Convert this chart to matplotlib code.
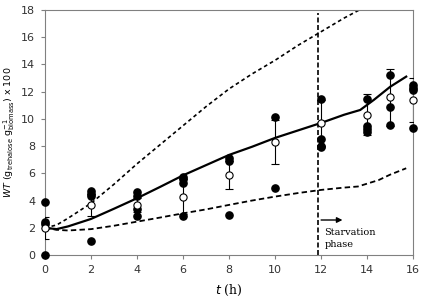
import matplotlib.pyplot as plt
import numpy as np

# individual measurements (filled)
t_meas = [0, 0, 0, 0,
          2, 2, 2, 2,
          4, 4, 4, 4,
          6, 6, 6, 6,
          8, 8, 8,
          10, 10,
          12, 12, 12, 12,
          14, 14, 14, 14,
          15, 15, 15,
          16, 16, 16, 16]
wt_meas = [3.9, 2.4, 2.3, 0.0,
           4.7, 4.5, 4.3, 1.05,
           4.6, 4.3, 3.4, 2.9,
           5.75, 5.55, 5.3, 2.9,
           7.1, 6.9, 2.95,
           10.1, 4.95,
           11.45, 8.5, 8.0, 7.9,
           11.45, 9.45, 9.25, 9.05,
           13.25, 10.9, 9.55,
           12.5, 12.3, 12.15, 9.3]

# means (open) with error
t_mean = [0, 2, 4, 6, 8, 10, 12, 14, 15, 16]
wt_mean = [2.0, 3.68, 3.68, 4.29, 5.88, 8.3, 9.68, 10.29, 11.57, 11.4]
wt_err = [0.8, 0.8, 0.5, 1.3, 1.03, 1.6, 1.7, 1.5, 2.1, 1.6]

# model curves
t_model = [0, 0.5, 1, 2, 3, 4, 5, 6, 7, 8, 9, 10, 11, 12, 13, 13.7, 14.3, 15, 15.7]
wt_model = [2.0, 1.9, 2.1, 2.65, 3.4, 4.17, 5.0, 5.85, 6.6, 7.35, 7.95, 8.6, 9.15, 9.7, 10.3, 10.65, 11.4, 12.35, 13.1]

t_upper = [0, 0.5, 1, 2, 3, 4, 5, 6, 7, 8, 9, 10, 11, 12, 13, 14]
wt_upper = [2.0, 2.2, 2.7, 3.8, 5.2, 6.7, 8.1, 9.5, 10.9, 12.2, 13.3, 14.3, 15.4, 16.4, 17.4, 18.3]

t_lower = [0, 0.5, 1, 2, 3, 4, 5, 6, 7, 8, 9, 10, 11, 12, 13, 13.6, 14.5, 15, 15.7]
wt_lower = [2.0, 1.85, 1.8, 1.9, 2.15, 2.45, 2.75, 3.06, 3.35, 3.68, 4.0, 4.29, 4.55, 4.78, 4.95, 5.03, 5.5, 5.9, 6.37]

t_starve = 11.88


def main() -> None:
    fig = plt.figure(figsize=(4.25, 3.0), dpi=100)
    ax = fig.add_axes([0.106, 0.15, 0.866, 0.817])

    ax.plot(t_upper, wt_upper, color="black", lw=1.2, ls=(0, (2.2, 1.8)))
    ax.plot(t_lower, wt_lower, color="black", lw=1.3, ls=(0, (3, 1.8)))
    ax.plot(t_model, wt_model, color="black", lw=1.6)

    ax.errorbar(t_mean, wt_mean, yerr=wt_err, fmt="none", ecolor="black",
                elinewidth=0.8, capsize=3, capthick=0.8, zorder=3)
    ax.plot(t_meas, wt_meas, "o", color="black", ms=5.2, zorder=4, clip_on=False)
    ax.plot(t_mean, wt_mean, "o", mfc="white", mec="black", mew=0.8, ms=5.2,
            zorder=5, clip_on=False)

    ax.plot([t_starve, t_starve], [0, 17.8], color="black", lw=1.2, ls=(0, (3, 1.5)))
    ax.annotate("", xy=(13.05, 2.57), xytext=(t_starve, 2.57),
                arrowprops=dict(arrowstyle="-|>", color="black", lw=1.0,
                                mutation_scale=8))
    ax.text(12.15, 1.2, "Starvation\nphase", fontsize=7, family="serif",
            ha="left", va="center", linespacing=1.4)

    ax.set_xlim(0, 16)
    ax.set_ylim(0, 18)
    ax.set_xticks(np.arange(0, 17, 2))
    ax.set_yticks(np.arange(0, 19, 2))
    for s in ax.spines.values():
        s.set_color("#808080")
        s.set_linewidth(0.8)
    ax.tick_params(direction="out", length=3, width=0.8, color="#808080",
                   labelsize=8, labelcolor="#333333", pad=4)

    ax.set_xlabel(r"$t$ (h)", family="serif", fontsize=9, labelpad=6)
    ax.set_ylabel(r"$WT$ ($\mathregular{g_{trehalose}\ g_{biomass}^{-1}}$) x 100",
                  fontsize=6.8, labelpad=3)

    fig.savefig("out.png", dpi=100)


if __name__ == "__main__":
    main()
